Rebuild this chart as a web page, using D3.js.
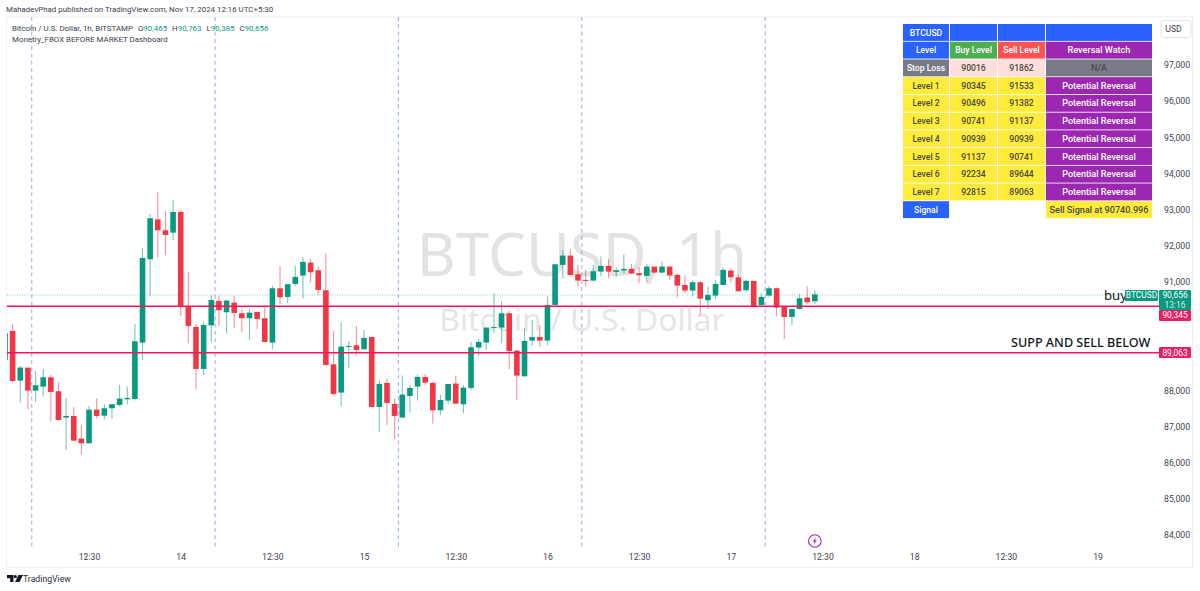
<!DOCTYPE html>
<html><head><meta charset="utf-8">
<script src="https://cdn.jsdelivr.net/npm/d3@7/dist/d3.min.js"></script>
<style>html,body{margin:0;padding:0;background:#fff}svg{display:block}text{font-family:Roboto,sans-serif}text.big{font-family:"Noto Sans",sans-serif}</style>
</head><body><svg id="c" width="1200" height="591"></svg>
<script>
const opens=[88842,89644,88271,88630,87994,88105,88363,87976,87247,87293,86666,86537,87468,87302,87505,87597,87754,87763,89322,91627,92733,92429,92364,92936,90317,89755,88593,89801,90474,90161,90428,90133,89995,90170,89995,89322,90824,90585,90944,91175,91534,91322,90769,88722,87939,89211,89248,89137,89478,87542,88206,87625,87247,87846,88105,88372,88206,87450,87717,88188,87616,88068,89184,89322,89727,89737,90133,89100,88390,89377,89478,89378,90364,91470,91729,91212,91056,91037,91286,91443,91277,91314,91360,91240,91166,91424,91258,91424,91194,90917,90761,90991,90493,90622,90917,91314,91129,90770,91028,90364,90622,90825,90318,90032,90253,90567,90465];
const highs=[89580,89838,88676,88630,88538,88593,88427,88234,87791,87542,87035,87570,87782,87625,87625,88151,88105,89838,91931,92881,93480,92954,93268,92991,91267,89838,89884,90622,90622,90502,90612,90253,90253,90170,90317,90889,91442,90935,91442,91682,91645,91424,91793,89644,89884,89368,89783,89672,89478,88271,88317,87782,88409,88160,88437,88455,88243,87883,88178,88409,88151,89340,89423,89737,90686,90474,90198,89119,89718,89949,89810,90595,91489,91885,91904,91470,91332,91470,91701,91627,91406,91756,91498,91406,91498,91424,91563,91424,91240,91175,91037,91028,90871,91056,91397,91378,91212,91056,91028,90687,90890,90844,90318,90253,90668,90871,90763];
const lows=[88842,88234,87671,87487,87680,87828,87136,87164,86353,86583,86233,86537,87219,87192,87219,87551,87607,87717,88833,90594,91673,91737,92161,90059,89303,88031,88427,89340,89783,89580,89718,89617,89395,89700,89322,89137,90373,90410,90889,90539,90990,90640,88685,87865,87561,88612,88962,89137,87524,86851,87044,86648,87247,87385,87717,88151,87081,87321,87616,87616,87367,88012,88953,89119,89589,89303,88593,87736,88381,89229,89202,89248,90364,91102,91148,90871,90871,91009,91166,91102,91129,91240,91212,90963,90982,91240,91240,91056,90567,90705,90595,90087,90244,90530,90899,90982,90733,90705,90318,90318,90576,90041,89414,89811,90244,90383,90385];
const closes=[89580,88261,88630,87994,88141,88363,87957,87183,87293,86611,86537,87468,87293,87505,87616,87773,87791,89359,91664,92761,92429,92300,92936,90317,89783,88593,89810,90502,90216,90483,90142,89995,90151,89976,89340,90824,90576,90935,91138,91553,91267,90778,88704,87902,89211,89229,89119,89451,87542,88178,87653,87293,87883,88068,88372,88215,87450,87736,88178,87634,88077,89193,89340,89737,89755,90133,89091,88409,89368,89478,89377,90364,91489,91729,91194,91037,91037,91295,91443,91286,91323,91360,91231,91185,91424,91258,91424,91175,90899,90761,90991,90539,90641,90945,91332,91129,90742,91028,90318,90585,90825,90290,90032,90253,90548,90438,90656];
const timeTicks=[[11,"12:30"],[23,"14"],[35,"12:30"],[47,"15"],[59,"12:30"],[71,"16"],[83,"12:30"],[95,"17"],[107,"12:30"],[119,"18"],[131,"12:30"],[143,"19"]];
const priceTicks=[97000,96000,95000,94000,93000,92000,91000,88000,87000,86000,85000,84000];
const sessionLines=[3.5,27.5,51.5,75.5,99.5];
const levelLines=[90345,89063];
const lastPrice=90656;
const tableRows=[
 ["BTCUSD","","",""],
 ["Level","Buy Level","Sell Level","Reversal Watch"],
 ["Stop Loss","90016","91862","N/A"],
 ["Level 1","90345","91533","Potential Reversal"],
 ["Level 2","90496","91382","Potential Reversal"],
 ["Level 3","90741","91137","Potential Reversal"],
 ["Level 4","90939","90939","Potential Reversal"],
 ["Level 5","91137","90741","Potential Reversal"],
 ["Level 6","92234","89644","Potential Reversal"],
 ["Level 7","92815","89063","Potential Reversal"],
 ["Signal","","","Sell Signal at 90740.996"]];
const UP="#089981",DOWN="#f23645",PINK="#f7145f",BLUE="#2962ff",YEL="#ffeb3b",PUR="#9c27b0",GRY="#787b86",ROSE="#ffdede",INK="#4a4a3a";
const tableFills=[
 [BLUE,BLUE,BLUE,BLUE],
 [BLUE,"#4caf50","#ff5252",PUR],
 [GRY,ROSE,ROSE,GRY],
 ...Array(7).fill([YEL,YEL,YEL,PUR]),
 [BLUE,null,null,YEL]];
const tableInks=[
 ["#fff","#fff","#fff","#fff"],
 ["#fff","#fff","#fff","#fff"],
 ["#fff",INK,INK,"#4a4c55"],
 ...Array(7).fill([INK,INK,INK,"#fff"]),
 ["#fff",INK,INK,INK]];

const svg=d3.select("#c");
const x=d3.scaleLinear().domain([0,143]).range([5,5+143*7.64]);
const y=d3.scaleLinear().domain([84000,97000]).range([535,65]);
const L=6.5,R=1159.5,T=17,B=548;

svg.append("defs").append("clipPath").attr("id","plot").append("rect").attr("x",7).attr("y",T).attr("width",R-7).attr("height",B-T);

// frame
svg.append("rect").attr("x",L).attr("y",T).attr("width",1192.5-L).attr("height",567.5-T).attr("fill","none").attr("stroke","#eef0f3").attr("stroke-width",1);

// header
svg.append("text").attr("x",6).attr("y",12).attr("font-size",7.9).attr("fill","#3a3e4a").text("MahadevPhad published on TradingView.com, Nov 17, 2024 12:16 UTC+5:30");

// watermarks
const plot=svg.append("g").attr("clip-path","url(#plot)");
plot.append("text").attr("class","big").attr("x",582).attr("y",276).attr("text-anchor","middle").attr("font-size",60).attr("fill","#e3e3e3").text("BTCUSD, 1h");
plot.append("text").attr("class","big").attr("x",582).attr("y",331).attr("text-anchor","middle").attr("font-size",31.7).attr("fill","#e6e6e6").text("Bitcoin / U.S. Dollar");

// legend
const legend=svg.append("text").attr("x",12).attr("y",30.5).attr("font-size",7.9).attr("fill","#3a3e4a");
legend.append("tspan").text("Bitcoin / U.S. Dollar, 1h, BITSTAMP");
[["O",opens],["H",highs],["L",lows],["C",closes]].forEach(([k,a],i)=>{
  legend.append("tspan").attr("dx",5).text(k);
  legend.append("tspan").attr("fill",UP).text(d3.format(",")(a[a.length-1]));
});
svg.append("text").attr("x",12).attr("y",41.5).attr("font-size",7.9).attr("fill","#3a3e4a").text("Monetry_FBOX BEFORE MARKET Dashboard");

// session lines
plot.selectAll(".sess").data(sessionLines).join("line").attr("x1",d=>x(d)).attr("x2",d=>x(d)).attr("y1",T).attr("y2",B)
  .attr("stroke","#7aa5f3").attr("stroke-opacity",.8).attr("stroke-width",1.1).attr("stroke-dasharray","4 3.3");

// last price dotted
plot.append("line").attr("x1",7).attr("x2",R).attr("y1",y(lastPrice)+0.6).attr("y2",y(lastPrice)+0.6).attr("stroke",UP).attr("stroke-opacity",.45).attr("stroke-dasharray","1 1.5");

// candles
const idx=d3.range(opens.length);
const col=i=>closes[i]>=opens[i]?UP:DOWN;
plot.selectAll(".w").data(idx).join("line").attr("x1",x).attr("x2",x).attr("y1",i=>y(highs[i])).attr("y2",i=>y(lows[i])).attr("stroke",col).attr("stroke-opacity",.55).attr("stroke-width",1.1);
plot.selectAll(".b").data(idx).join("rect").attr("x",i=>x(i)-2.8).attr("width",5.6)
  .attr("y",i=>y(Math.max(opens[i],closes[i]))).attr("height",i=>Math.max(1,Math.abs(y(opens[i])-y(closes[i])))).attr("fill",col);

// level lines
plot.selectAll(".lv").data(levelLines).join("line").attr("x1",7).attr("x2",R).attr("y1",d=>y(d)+0.7).attr("y2",d=>y(d)+0.7).attr("stroke",PINK).attr("stroke-width",1.5);

// annotations
svg.append("text").attr("class","big").attr("x",1104).attr("y",300).attr("font-size",13.2).attr("fill","#131722").text("buy");
svg.append("text").attr("class","big").attr("x",1011).attr("y",347).attr("font-size",12.6).attr("font-weight",500).attr("fill","#131722").text("SUPP AND SELL BELOW");

// time axis
const xAxis=d3.axisBottom(x).tickValues(timeTicks.map(d=>d[0])).tickSize(0).tickFormat(d=>timeTicks.find(t=>t[0]===d)[1]);
const gx=svg.append("g").attr("transform","translate(0,548)").call(xAxis);
gx.select(".domain").remove();
gx.selectAll("text").attr("y",6).attr("font-size",8.7).attr("fill","#3f434f");

// price axis
const yAxis=d3.axisRight(y).tickValues(priceTicks).tickSize(0).tickFormat(d3.format(","));
const gy=svg.append("g").attr("transform","translate(1164,0)").call(yAxis);
gy.select(".domain").remove();
gy.selectAll("text").attr("x",0).attr("font-size",8.7).attr("fill","#3f434f");

// USD button
svg.append("rect").attr("x",1161).attr("y",20.5).attr("width",30).attr("height",17).attr("rx",3).attr("fill","#fff").attr("stroke","#e0e3eb");
svg.append("text").attr("x",1173.5).attr("y",32).attr("text-anchor","middle").attr("font-size",8.7).attr("fill","#3f434f").text("USD");

// price labels
function tag(x0,y0,w,h,fill){svg.append("rect").attr("x",x0).attr("y",y0).attr("width",w).attr("height",h).attr("rx",1).attr("fill",fill);}
function tagText(cx,cy,s,op){svg.append("text").attr("x",cx).attr("y",cy).attr("text-anchor","middle").attr("dominant-baseline","central").attr("font-size",8.4).attr("fill","#fff").attr("fill-opacity",op||1).text(s);}
tag(1125,290,33,11,UP); tagText(1141.5,295,"BTCUSD");
tag(1159,290,32,20,UP); tagText(1175,294.7,d3.format(",")(lastPrice)); tagText(1175,304.5,"13:16",.85);
tag(1159,310,32,11,"#e91e63"); tagText(1175,315,d3.format(",")(levelLines[0]));
tag(1159,347,32,11,"#e91e63"); tagText(1175,352.5,d3.format(",")(levelLines[1]));

// table
const colX=[903,950,998,1046],colW=[46,47,47,106],colFont=[8.6,8.6,8.6,9.1];
const rowY=d3.range(tableRows.length).map(i=>24+i*17.72);
tableRows.forEach((row,r)=>row.forEach((s,c)=>{
  const f=tableFills[r][c];
  if(f) svg.append("rect").attr("x",colX[c]).attr("y",rowY[r]).attr("width",colW[c]).attr("height",16.9).attr("fill",f);
  if(s) svg.append("text").attr("x",colX[c]+colW[c]/2).attr("y",rowY[r]+8.5).attr("text-anchor","middle").attr("dominant-baseline","central").attr("font-size",colFont[c]).attr("font-weight",500).attr("fill",tableInks[r][c]).text(s);
}));

// alert icon
const icon=svg.append("g").attr("transform",`translate(${x(106)},541)`);
icon.append("circle").attr("r",6.3).attr("fill","#fff").attr("stroke",PUR).attr("stroke-width",1.1);
icon.append("path").attr("d","M1,-3.6 L-2,0.6 L-0.2,0.6 L-1,3.6 L2,-0.6 L0.2,-0.6 Z").attr("fill",PUR);

// logo
const logo=svg.append("g").attr("transform","translate(7,575)").attr("fill","#131722");
logo.append("path").attr("d","M0,0 H6.5 V7 H3.2 V3.2 H0 Z");
logo.append("circle").attr("cx",8.3).attr("cy",1.6).attr("r",1.6);
logo.append("path").attr("d","M11.5,0 H16 L12.5,7 H8 Z");
svg.append("text").attr("x",23).attr("y",582).attr("font-size",8.7).attr("fill","#2a2e39").text("TradingView");
</script></body></html>
